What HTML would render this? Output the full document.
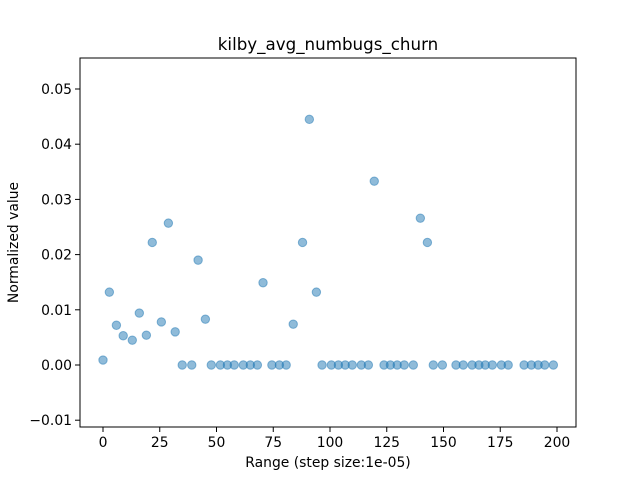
<!DOCTYPE html>
<html><head><meta charset="utf-8"><style>
body{margin:0;background:#fff;}
svg text{font-family:"DejaVu Sans","Liberation Sans",sans-serif;fill:#000;}
</style></head><body>
<svg id="chart" width="640" height="480" xmlns="http://www.w3.org/2000/svg">
<rect width="640" height="480" fill="#fff"/>
<text x="328" y="50" font-size="16.7" text-anchor="middle">kilby_avg_numbugs_churn</text>
<g id="marks"></g>
<g id="axes"></g>
<rect x="80" y="58" width="496" height="369" fill="none" stroke="#000" stroke-width="1"/>
<text x="328" y="467" font-size="13.9" text-anchor="middle">Range (step size:1e-05)</text>
<text transform="translate(18,242.5) rotate(-90)" font-size="13.9" text-anchor="middle">Normalized value</text>
</svg>
<script>
const xs = [0,2.8,5.9,8.9,12.9,16,19.1,21.7,25.7,28.8,31.8,34.9,39.1,41.9,45.1,47.7,51.7,54.8,57.8,61.8,64.9,68,70.5,74.4,77.7,80.7,83.8,87.9,90.9,94,96.5,100.6,103.7,106.7,109.8,113.8,116.9,119.5,123.8,126.6,129.6,132.7,136.7,139.8,142.9,145.5,149.5,155.5,158.7,162.6,165.6,168.4,171.5,175.5,178.5,185.5,188.7,191.7,194.6,198.4];
const ys = [0.0009,0.0132,0.0072,0.0053,0.0045,0.0094,0.0054,0.0222,0.0078,0.0257,0.006,0,0,0.019,0.0083,0,0,0,0,0,0,0,0.0149,0,0,0,0.0074,0.0222,0.0445,0.0132,0,0,0,0,0,0,0,0.0333,0,0,0,0,0,0.0266,0.0222,0,0,0,0,0,0,0,0,0,0,0,0,0,0,0];
const xTicks = [0,25,50,75,100,125,150,175,200];
const yTicks = [-0.01,0,0.01,0.02,0.03,0.04,0.05];
const yTickLabels = ["−0.01","0.00","0.01","0.02","0.03","0.04","0.05"];
const NS="http://www.w3.org/2000/svg";
function sx(v){return 103+v*2.27;}
function sy(v){return 365-v*5520;}
const marks=document.getElementById('marks');
xs.forEach((x,i)=>{
  const c=document.createElementNS(NS,'circle');
  c.setAttribute('cx',sx(x));c.setAttribute('cy',sy(ys[i]));c.setAttribute('r',4.2);
  c.setAttribute('fill','rgba(31,119,180,0.5)');c.setAttribute('stroke','rgba(31,119,180,0.5)');c.setAttribute('stroke-width','1');
  
  
  marks.appendChild(c);
});
const axes=document.getElementById('axes');
xTicks.forEach(t=>{
  const l=document.createElementNS(NS,'line');
  l.setAttribute('x1',sx(t));l.setAttribute('x2',sx(t));l.setAttribute('y1',427);l.setAttribute('y2',432);l.setAttribute('stroke','#000');
  
  
  axes.appendChild(l);
  const tx=document.createElementNS(NS,'text');
  tx.setAttribute('x',sx(t));tx.setAttribute('y',447);tx.setAttribute('font-size','13.9');tx.setAttribute('text-anchor','middle');
  tx.textContent=t;
  
  
  axes.appendChild(tx);
});
yTicks.forEach((t,i)=>{
  const l=document.createElementNS(NS,'line');
  l.setAttribute('x1',75);l.setAttribute('x2',80);l.setAttribute('y1',sy(t));l.setAttribute('y2',sy(t));l.setAttribute('stroke','#000');
  
  
  axes.appendChild(l);
  const tx=document.createElementNS(NS,'text');
  tx.setAttribute('x',72);tx.setAttribute('y',sy(t)+5);tx.setAttribute('font-size','13.9');tx.setAttribute('text-anchor','end');
  tx.textContent=yTickLabels[i];
  
  
  axes.appendChild(tx);
});
</script>
</body></html>
